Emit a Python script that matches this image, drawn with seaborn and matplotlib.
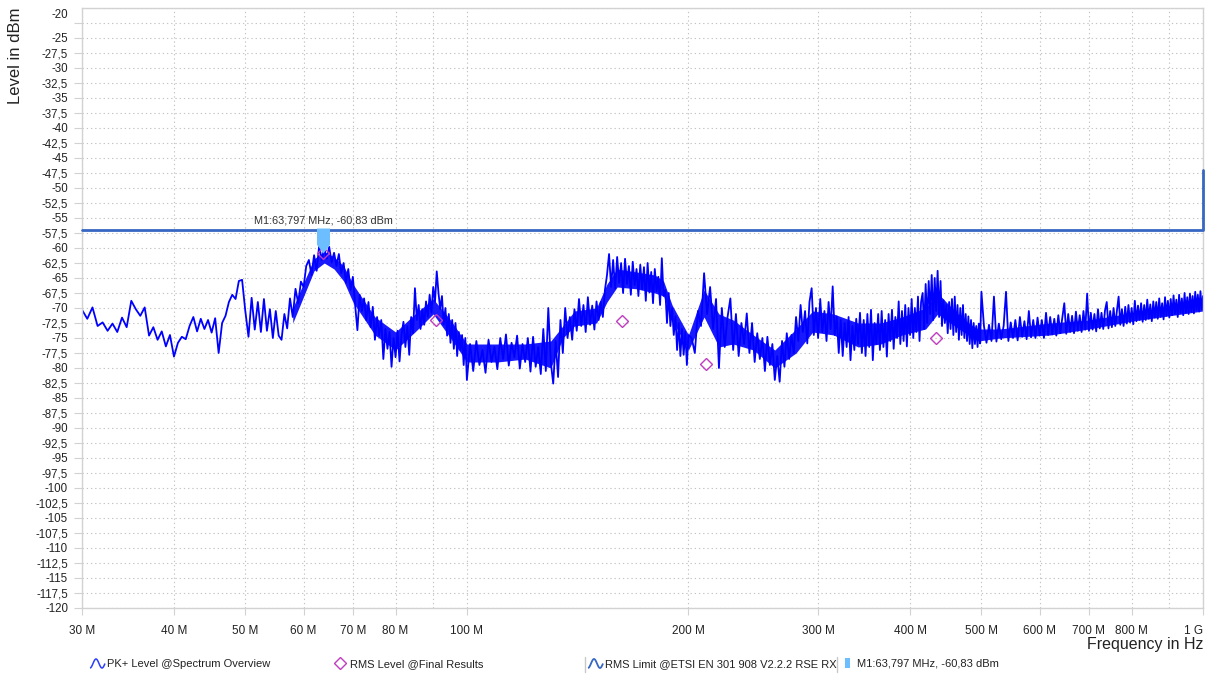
#!/usr/bin/env python3
"""
Radiated spurious emissions, receiver mode (30 MHz - 1 GHz).

PK+ spectrum overview, RMS final results, ETSI EN 301 908 limit and marker M1.
Values are read off the original screenshot.
"""

import matplotlib

matplotlib.use("Agg")

import matplotlib.pyplot as plt  # figure / axes
import numpy as np  # icon geometry and tick grid only
import seaborn as sns  # theme + line plots
from matplotlib.lines import Line2D
from matplotlib.path import Path
from matplotlib.ticker import FixedFormatter, FixedLocator, NullFormatter
from matplotlib.transforms import ScaledTranslation

W, H = 1211, 675

# PK+ trace, frequency in MHz
trace_mhz = [
    # 30 - 60 MHz
    30, 30.5, 31, 31.5, 32, 32.5, 33, 33.5, 34, 34.5, 35, 35.5, 36, 36.5, 37, 37.5,
    38, 38.5, 39, 39.5, 40, 40.5, 41, 41.5, 42, 42.5, 43, 43.5, 44, 44.5, 45, 45.5,
    46, 46.5, 47, 47.5, 48, 48.5, 49, 49.5, 50, 50.5, 51, 51.5, 52, 52.5, 53, 53.5,
    54, 54.5, 55, 55.5, 56, 56.5, 57, 57.5, 58, 58.5, 59, 59.5, 60,
    # 60.5 - 100 MHz
    60.5, 61, 61.5, 62, 62.5, 63, 63.5, 64, 64.5, 65, 65.5, 66, 66.5, 67, 67.5, 68,
    68.5, 69, 69.5, 70, 70.5, 71, 71.5, 72, 72.5, 73, 73.5, 74, 74.5, 75, 75.5, 76,
    76.5, 77, 77.5, 78, 78.5, 79, 79.5, 80, 80.5, 81, 81.5, 82, 82.5, 83, 83.5, 84,
    84.5, 85, 85.5, 86, 86.5, 87, 87.5, 88, 88.5, 89, 89.5, 90, 90.5, 91, 91.5, 92,
    92.5, 93, 93.5, 94, 94.5, 95, 95.5, 96, 96.5, 97, 97.5, 98, 98.5, 99, 99.5, 100,
    # 101 - 200 MHz
    101, 102, 103, 104, 105, 106, 107, 108, 109, 110, 111, 112, 113, 114, 115, 116,
    117, 118, 119, 120, 121, 122, 123, 124, 125, 126, 127, 128, 129, 130, 131, 132,
    133, 134, 135, 136, 137, 138, 139, 140, 141, 142, 143, 144, 145, 146, 147, 148,
    149, 150, 151, 152, 153, 154, 155, 156, 157, 158, 159, 160, 161, 162, 163, 164,
    165, 166, 167, 168, 169, 170, 171, 172, 173, 174, 175, 176, 177, 178, 179, 180,
    181, 182, 183, 184, 185, 186, 187, 188, 189, 190, 191, 192, 193, 194, 195, 196,
    197, 198, 199, 200,
    # 202 - 500 MHz
    202, 204, 206, 208, 210, 212, 214, 216, 218, 220,
    222, 224, 226, 228, 230, 232, 234, 236, 238, 240,
    242, 244, 246, 248, 250, 252, 254, 256, 258, 260,
    262, 264, 266, 268, 270, 272, 274, 276, 278, 280,
    282, 284, 286, 288, 290, 292, 294, 296, 298, 300,
    302, 304, 306, 308, 310, 312, 314, 316, 318, 320,
    322, 324, 326, 328, 330, 332, 334, 336, 338, 340,
    342, 344, 346, 348, 350, 352, 354, 356, 358, 360,
    362, 364, 366, 368, 370, 372, 374, 376, 378, 380,
    382, 384, 386, 388, 390, 392, 394, 396, 398, 400,
    402, 404, 406, 408, 410, 412, 414, 416, 418, 420,
    422, 424, 426, 428, 430, 432, 434, 436, 438, 440,
    442, 444, 446, 448, 450, 452, 454, 456, 458, 460,
    462, 464, 466, 468, 470, 472, 474, 476, 478, 480,
    482, 484, 486, 488, 490, 492, 494, 496, 498, 500,
    # 504 - 1000 MHz
    504, 508, 512, 516, 520, 524, 528, 532, 536, 540,
    544, 548, 552, 556, 560, 564, 568, 572, 576, 580,
    584, 588, 592, 596, 600, 604, 608, 612, 616, 620,
    624, 628, 632, 636, 640, 644, 648, 652, 656, 660,
    664, 668, 672, 676, 680, 684, 688, 692, 696, 700,
    704, 708, 712, 716, 720, 724, 728, 732, 736, 740,
    744, 748, 752, 756, 760, 764, 768, 772, 776, 780,
    784, 788, 792, 796, 800, 804, 808, 812, 816, 820,
    824, 828, 832, 836, 840, 844, 848, 852, 856, 860,
    864, 868, 872, 876, 880, 884, 888, 892, 896, 900,
    904, 908, 912, 916, 920, 924, 928, 932, 936, 940,
    944, 948, 952, 956, 960, 964, 968, 972, 976, 980,
    984, 988, 992, 996, 1000,
]
trace_dbm = [
    # 30 - 60 MHz
    -70.3, -71.8, -69.9, -73.0, -72.4, -73.8, -72.6, -74.0, -71.6, -73.2, -68.8, -70.2,
    -71.3, -69.9, -74.6, -73.2, -75.3, -73.9, -76.4, -74.5, -78.1, -75.8, -74.8, -75.2,
    -73.0, -71.5, -73.9, -71.8, -73.5, -72.0, -74.1, -71.7, -77.5, -72.5, -71.3, -69.0,
    -67.8, -68.5, -65.5, -65.3, -70.5, -74.8, -68.3, -73.6, -69.0, -74.0, -68.5, -73.8,
    -70.2, -75.0, -70.5, -74.6, -75.3, -71.0, -73.4, -68.4, -71.5, -66.8, -69.2, -65.6,
    -66.5,
    # 60.5 - 100 MHz
    -63.0, -62.0, -64.5, -61.2, -63.8, -59.6, -62.0, -60.0, -61.8, -59.8, -62.4, -60.8,
    -63.0, -61.0, -64.2, -62.5, -65.8, -63.5, -67.0, -64.8, -69.5, -73.7, -67.8, -70.5,
    -68.4, -72.0, -69.0, -73.2, -69.8, -75.3, -71.5, -74.6, -72.0, -78.5, -73.5, -76.8,
    -74.0, -79.8, -75.0, -78.2, -73.8, -78.9, -74.5, -72.3, -76.5, -73.0, -77.8, -71.5,
    -74.2, -66.7, -72.0, -69.5, -73.5, -70.2, -72.8, -68.9, -71.5, -67.8, -70.8, -66.5,
    -69.0, -63.9, -67.5, -70.2, -68.0, -72.8, -70.0, -74.6, -71.0, -75.8, -72.0, -76.8,
    -72.5, -78.0, -74.0, -77.0, -74.5, -79.5, -75.0, -82.0,
    # 101 - 200 MHz
    -76.0, -80.5, -75.5, -79.5, -77.0, -80.8, -75.3, -79.0, -76.5, -80.2, -75.0, -78.5,
    -74.4, -79.6, -75.8, -78.2, -74.6, -80.1, -76.0, -79.0, -75.0, -80.6, -74.8, -79.8,
    -76.5, -81.0, -73.5, -80.5, -70.0, -79.0, -82.6, -75.5, -81.5, -72.0, -77.5, -70.0,
    -75.0, -71.5, -75.3, -70.2, -73.8, -68.5, -73.0, -69.5, -74.0, -68.2, -72.8, -69.6,
    -73.6, -68.9, -72.0, -69.0, -71.5, -67.0, -64.5, -61.0, -66.5, -62.0, -66.8, -61.5,
    -65.8, -62.5, -67.5, -61.8, -66.0, -63.0, -67.8, -62.3, -66.2, -63.5, -68.0, -62.8,
    -66.9, -63.2, -68.8, -62.5, -67.4, -64.0, -69.2, -63.5, -67.2, -64.8, -69.5, -61.7,
    -68.0, -67.0, -72.5, -67.5, -73.0, -70.0, -74.5, -71.4, -77.0, -72.5, -78.0, -73.5,
    -77.8, -74.0, -79.5, -74.5,
    # 202 - 500 MHz
    -75.0, -77.5, -70.5, -73.0, -64.2, -71.0, -66.5, -73.5, -68.5, -80.0,
    -70.0, -76.5, -71.5, -68.4, -77.0, -71.0, -78.0, -72.5, -76.0, -70.9,
    -77.5, -72.5, -79.0, -74.2, -78.5, -75.0, -80.5, -74.8, -79.5, -76.0,
    -82.0, -78.0, -82.3, -75.5, -79.8, -74.2, -78.5, -74.5, -77.5, -71.5,
    -75.5, -69.5, -74.0, -70.5, -75.9, -69.0, -66.7, -74.5, -70.0, -75.0,
    -68.5, -74.0, -70.5, -75.5, -69.0, -73.5, -66.4, -74.5, -71.4, -77.5,
    -72.0, -78.0, -72.5, -76.5, -71.5, -78.7, -73.0, -77.0, -71.8, -76.0,
    -70.8, -77.5, -72.0, -78.0, -71.0, -76.5, -70.3, -78.7, -72.5, -76.0,
    -71.0, -77.0, -70.5, -76.5, -72.0, -78.1, -71.0, -75.5, -70.3, -76.8,
    -71.5, -75.0, -68.9, -76.0, -70.5, -75.5, -69.5, -76.4, -70.0, -74.5,
    -68.5, -75.0, -70.0, -74.0, -68.1, -75.5, -69.0, -67.5, -73.5, -66.0,
    -72.5, -65.5, -71.0, -64.5, -72.0, -65.0, -70.5, -63.8, -71.5, -65.5,
    -73.0, -68.7, -72.5, -69.5, -74.2, -69.0, -73.5, -68.5, -74.5, -68.1,
    -74.0, -69.5, -75.3, -70.0, -74.5, -69.5, -75.0, -71.0, -75.5, -71.4,
    -76.0, -72.0, -76.7, -72.5, -76.0, -73.0, -76.5, -72.6, -75.9, -67.3,
    # 504 - 1000 MHz
    -73.0, -75.8, -72.8, -75.5, -68.1, -75.6, -72.6, -75.2, -73.0, -67.3,
    -75.5, -72.4, -75.0, -72.0, -75.4, -71.5, -74.8, -72.2, -75.2, -70.5,
    -74.9, -72.0, -75.0, -71.6, -74.6, -72.0, -75.0, -70.8, -74.5, -71.5,
    -74.4, -71.8, -74.6, -71.2, -74.2, -71.6, -69.2, -74.3, -71.0, -74.0,
    -71.3, -74.2, -70.6, -73.8, -71.2, -74.0, -70.5, -73.6, -67.6, -73.8,
    -70.8, -73.6, -71.0, -73.9, -70.2, -73.4, -70.8, -73.5, -70.4, -69.0,
    -73.4, -70.5, -73.2, -70.0, -73.0, -70.4, -68.1, -72.8, -70.2, -73.0,
    -69.8, -72.6, -69.5, -72.4, -70.0, -72.7, -68.8, -72.2, -69.6, -72.0,
    -69.2, -72.3, -69.5, -72.0, -68.6, -71.8, -69.4, -72.2, -68.9, -71.6,
    -69.0, -71.8, -68.4, -71.5, -69.2, -71.9, -68.2, -71.3, -68.8, -71.6,
    -68.5, -71.2, -67.9, -71.0, -68.6, -71.5, -67.8, -70.8, -68.4, -71.2,
    -67.5, -70.8, -68.2, -71.0, -67.6, -70.6, -68.0, -70.9, -67.3, -70.4,
    -67.8, -70.6, -67.2, -70.2, -68.0,
]

# dense body of the PK+ trace (lower / upper edge)
band_mhz = [58, 62, 64, 66, 68, 70, 75, 80, 85, 90, 95, 100, 110, 120, 130, 135,
            140, 150, 155, 160, 170, 180, 185, 190, 200, 210, 220, 230, 245, 262,
            280, 295, 315, 340, 365, 390, 420, 436, 460, 480, 495, 530, 620, 700,
            800, 900, 1000]
band_high = [-70.0, -61.8, -60.6, -61.5, -63.0, -66.0, -71.5, -74.0, -71.0, -68.5,
             -72.0, -76.0, -76.0, -76.0, -75.5, -73.0, -70.5, -70.0, -66.0, -63.5,
             -64.0, -64.5, -65.5, -69.5, -74.5, -67.0, -71.0, -72.0, -74.5, -77.0,
             -73.5, -70.5, -71.0, -72.5, -72.5, -71.5, -70.0, -67.5, -70.5, -72.5,
             -73.5, -73.5, -72.5, -72.0, -70.8, -69.8, -69.0]
band_low = [-72.5, -63.8, -62.5, -63.5, -65.5, -69.0, -74.5, -77.0, -74.0, -71.0,
            -75.0, -79.0, -79.0, -78.5, -80.0, -75.0, -73.0, -72.5, -69.0, -66.5,
            -66.8, -67.5, -68.0, -72.0, -77.0, -71.5, -76.5, -76.0, -77.0, -80.0,
            -77.5, -74.0, -74.5, -76.5, -76.0, -74.5, -73.5, -71.0, -73.0, -74.5,
            -75.5, -75.0, -74.5, -73.5, -72.2, -71.3, -70.5]

# RMS final results
rms_mhz = [63.797, 90.8, 162.5, 211.1, 433.9]
rms_dbm = [-60.83, -72.0, -72.2, -79.4, -75.0]

# RMS limit (step at 1 GHz)
limit_mhz = [30, 1000, 1000]
limit_dbm = [-57, -57, -47]

# marker M1
m1_mhz = [63.797]
m1_dbm = [-60.83]
m1_text = "M1:63,797 MHz, -60,83 dBm"

xtick_mhz = [30, 40, 50, 60, 70, 80, 100, 200, 300, 400, 500, 600, 700, 800, 1000]
xtick_labels = ["30 M", "40 M", "50 M", "60 M", "70 M", "80 M", "100 M", "200 M",
                "300 M", "400 M", "500 M", "600 M", "700 M", "800 M", "1 G"]
xgrid_extra_mhz = [90, 900]

legend_labels = ["PK+ Level @Spectrum Overview", "RMS Level @Final Results",
                 "RMS Limit @ETSI EN 301 908 V2.2.2 RSE RX", m1_text]

BLUE = "#0000FF"
LIMIT = "#3767C2"
RMS = "#C03CC0"
MARK = "#6CBEFF"
GRID = "#C4C4C4"
FRAME = "#D2D2D2"
TEXT = "#222222"


def flag_path() -> Path:
    """Marker flag: rectangle with a point at the bottom, tip on the data point."""
    verts = [(-0.26, 1.0), (0.26, 1.0), (0.26, 0.35), (0.0, 0.0), (-0.26, 0.35), (-0.26, 1.0)]
    codes = [Path.MOVETO] + [Path.LINETO] * 4 + [Path.CLOSEPOLY]
    return Path(verts, codes)


def wave_path() -> Path:
    """Small sine icon used in the legend."""
    t = np.linspace(-0.5 * np.pi, 2.0 * np.pi, 40)
    x = (t / np.pi - 0.75) / 1.25
    return Path(np.column_stack([x, 0.6 * np.sin(t)]))


def main():
    assert len(trace_mhz) == len(trace_dbm)
    assert len(band_mhz) == len(band_low) == len(band_high)

    sns.set_theme(style="white")
    plt.rcParams["font.family"] = ["Liberation Sans", "DejaVu Sans"]

    fig = plt.figure(figsize=(W / 100, H / 100), dpi=100)
    ax = fig.add_axes([82 / W, 67 / H, 1121 / W, 600 / H])
    ax.set_xscale("log")

    # trace: solid body underneath, jagged sweep on top
    ax.fill_between(band_mhz, band_low, band_high, color=BLUE, alpha=0.9, lw=0, zorder=2)
    sns.lineplot(x=trace_mhz, y=trace_dbm, ax=ax, color=BLUE, linewidth=1.3,
                 sort=False, estimator=None, zorder=2)
    sns.lineplot(x=limit_mhz, y=limit_dbm, ax=ax, color=LIMIT, linewidth=2.0,
                 sort=False, estimator=None, clip_on=False, zorder=3)
    ax.plot(rms_mhz, rms_dbm, ls="none", marker="D", ms=6.5, mfc="none", mec=RMS,
            mew=1.0, zorder=4)
    ax.plot(m1_mhz, m1_dbm, ls="none", marker=flag_path(), ms=36, mfc=MARK, mec=MARK,
            mew=0, zorder=5)
    ax.annotate(m1_text, xy=(m1_mhz[0], m1_dbm[0]), xytext=(0, 20),
                textcoords="offset points", ha="center", va="bottom",
                fontsize=7.8, color="#333333")

    ax.set_xlim(30, 1000)
    ax.set_ylim(-120, -20)

    # x axis
    ax.xaxis.set_major_locator(FixedLocator(xtick_mhz))
    ax.xaxis.set_major_formatter(FixedFormatter(xtick_labels))
    ax.xaxis.set_minor_locator(FixedLocator(xgrid_extra_mhz))
    ax.xaxis.set_minor_formatter(NullFormatter())
    ax.tick_params(axis="x", which="major", bottom=True, length=5, width=0.8, color=FRAME,
                   pad=7, labelsize=8.5, labelcolor=TEXT)
    ax.tick_params(axis="x", which="minor", bottom=False, length=0)

    # y axis, every 2.5 dB (no label at -22.5)
    ytick_values = np.arange(-120, -17.5, 2.5)
    ytick_labels = [f"{v:g}".replace(".", ",") for v in ytick_values]
    ytick_labels[-2] = ""
    ax.set_yticks(ytick_values, ytick_labels)
    ax.tick_params(axis="y", left=True, length=6, width=0.8, color=FRAME, pad=4,
                   labelsize=8.3, labelcolor=TEXT)

    ax.grid(True, which="both", axis="x", ls=(0, (1.2, 2.6)), color=GRID, lw=0.8)
    ax.grid(True, which="major", axis="y", ls=(0, (1.2, 2.6)), color=GRID, lw=0.8)

    for s in ax.spines.values():
        s.set_color(FRAME)
        s.set_linewidth(1.0)

    # label tweaks: "1 G" sits inside the frame, "-20" is pushed down a little
    ax.get_xticklabels()[-1].set_ha("right")
    top = ax.get_yticklabels()[-1]
    top.set_transform(top.get_transform() + ScaledTranslation(0, -0.06, fig.dpi_scale_trans))
    ax.yaxis.get_major_ticks()[-1].tick1line.set_visible(False)

    ax.set_xlabel("Frequency in Hz", loc="right", fontsize=11.5, color=TEXT)
    ax.xaxis.set_label_coords(1.0, -0.048)
    ax.set_ylabel("Level in dBm", loc="top", fontsize=12, color=TEXT)
    ax.yaxis.set_label_coords(-0.0526, 1.0)

    # legend row
    handles = [
        Line2D([], [], ls="none", marker=wave_path(), ms=10.8, mfc="none", mec="#2A3CFF", mew=1.1),
        Line2D([], [], ls="none", marker="D", ms=6, mfc="none", mec=RMS, mew=1.0),
        Line2D([], [], ls="none", marker=wave_path(), ms=10.8, mfc="none", mec=LIMIT, mew=1.3),
        Line2D([], [], ls="none", marker=Path([(-0.5, -1), (0.5, -1), (0.5, 1), (-0.5, 1), (-0.5, -1)]),
               ms=7.2, mfc=MARK, mec=MARK, mew=0),
    ]
    for handle, label, x_px in zip(handles, legend_labels, [89, 332, 587, 839]):
        fig.legend(handles=[handle], labels=[label], loc="center left",
                   bbox_to_anchor=(x_px / W, 1 - 664 / H), frameon=False, borderpad=0,
                   borderaxespad=0, handlelength=1.4, handletextpad=0.25, fontsize=8,
                   labelcolor=TEXT)
    for x_px in [585, 837]:
        fig.add_artist(Line2D([x_px / W] * 2, [1 - 657 / H, 1 - 672 / H],
                              transform=fig.transFigure, color="#C8C8C8", lw=1.0))

    fig.savefig("out.png", dpi=100)


if __name__ == "__main__":
    main()
